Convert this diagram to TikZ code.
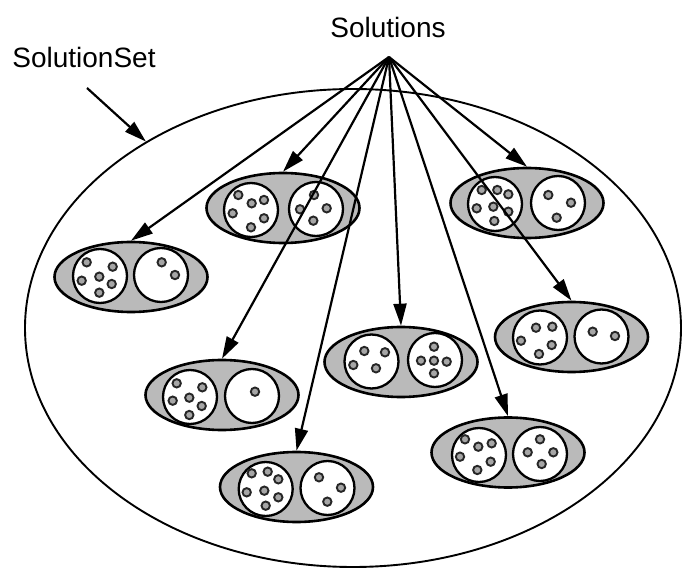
\documentclass[tikz,border=0pt]{standalone}
\usepackage{fontspec}
\setmainfont{Liberation Sans}
\usetikzlibrary{shapes.geometric,arrows.meta}
\begin{document}
\begin{tikzpicture}[x=1pt,y=-1pt,
  solbox/.style={ellipse,draw=black,line width=2.6pt,fill=black!27,minimum width=153pt,minimum height=70pt,inner sep=0pt},
  part/.style={circle,draw=black,line width=2.3pt,fill=white,minimum size=54pt,inner sep=0pt},
  elem/.style={draw=black!85,fill=black!35,line width=1.9pt},
  arr/.style={line width=2.2pt,-{Triangle[length=22pt,width=13pt]}},
  lbl/.style={font=\fontsize{28}{32}\selectfont,inner sep=0pt}]
\useasboundingbox (0,0) rectangle (686,569);
% outer set
\node[ellipse,draw=black,line width=1.9pt,minimum width=656pt,minimum height=478pt,inner sep=0pt] (set) at (353,328) {};
% labels
\node[lbl] (lsol) at (388,27) {Solutions};
\node[lbl] (lset) at (84,57) {SolutionSet};
\coordinate (apex) at (389,57);
\coordinate (setstart) at (87,88);
% solutions
\node[solbox] (s1) at (131,277) {};
\node[part] (s1a) at (100,276) {};
\node[part] (s1b) at (161,275) {};
\node[solbox] (s2) at (283,208) {};
\node[part] (s2a) at (251,210) {};
\node[part] (s2b) at (316,209) {};
\node[solbox] (s3) at (527,203) {};
\node[part] (s3a) at (495,204) {};
\node[part] (s3b) at (558,203) {};
\node[solbox] (s4) at (222,395) {};
\node[part] (s4a) at (190,397) {};
\node[part] (s4b) at (252,396) {};
\node[solbox] (s5) at (401,362) {};
\node[part] (s5a) at (371.5,361.5) {};
\node[part] (s5b) at (435,360) {};
\node[solbox] (s6) at (571.5,337) {};
\node[part] (s6a) at (540,337.5) {};
\node[part] (s6b) at (601.5,336.5) {};
\node[solbox] (s7) at (508,452.5) {};
\node[part] (s7a) at (479,455) {};
\node[part] (s7b) at (540,454) {};
\node[solbox] (s8) at (296.5,487) {};
\node[part] (s8a) at (265.7,489) {};
\node[part] (s8b) at (327.5,488) {};
% elements
\foreach \x/\y in {86.7/262.3,112.7/266.7,99.3/276.7,81.7/280.7,111.7/284,99.3/292.7,161.7/262.3,175/275,
  238.3/195,251.7/203.3,264/200,232.7/213.3,264/218.3,251/227.3,314/195,300/209.3,326.7/208.3,313.3/220.7,
  481.7/190,497.3/190,508.3/194.3,476.7/208.3,493.3/206.7,508.3/211.7,494.3/221,548.3/195,571/202.7,556.7/217.7,
  176.7/383.3,202.3/387.3,189.3/397.7,172.7/400.7,201.7/406,189.3/415,255/391.7,
  364.3/351,385/352.3,353.3/365,376/368.3,434/346.7,421/360.7,434/360.7,446.7/361.7,434/373.3,
  536/327.7,552.3/326.7,521/340.7,551.7/345,539/354,592.7/331.7,615/336,
  465/439.3,478.3/446.7,491.7/443.3,460/456.7,490.7/461.7,477.3/470,540/439.3,527.7/452.3,553.3/452.3,541.7/464,
  251.7/473.3,267.7/471.7,278.3/479.3,246.7/492.3,264.3/490.7,278.3/497.3,265.7/505.7,319/477.3,341/487.7,327.3/501.7}
  \draw[elem] (\x,\y) circle (4.2pt);
% arrows
\draw[arr] (setstart) -- (set.138);
\foreach \s in {s1,s2,s3,s4,s5,s6,s7,s8}
  \draw[arr] (apex) -- (\s.north);
\end{tikzpicture}
\end{document}
